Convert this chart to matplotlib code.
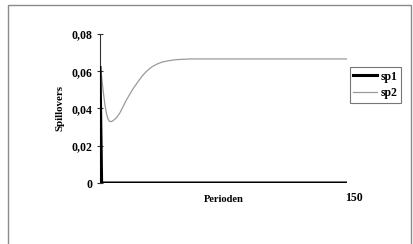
import matplotlib
matplotlib.use("Agg")
import matplotlib.pyplot as plt
from matplotlib.patches import Rectangle

# series
periods_sp1 = [0, 1, 150]
sp1 = [0.062, 0.0, 0.0]

periods_sp2 = [0, 1, 2, 3, 4, 5, 6, 7, 8, 10, 12, 14, 16, 18, 20, 22, 24, 26, 28, 30,
               32, 35, 38, 42, 46, 50, 55, 60, 80, 100, 120, 150]
sp2 = [0.062, 0.057, 0.049, 0.042, 0.037, 0.034, 0.033, 0.033, 0.0335, 0.035, 0.0375,
       0.041, 0.0445, 0.0475, 0.0505, 0.053, 0.0555, 0.0578, 0.0597, 0.0613, 0.0626,
       0.064, 0.065, 0.0657, 0.0662, 0.0664, 0.0666, 0.0666, 0.0666, 0.0666, 0.0666, 0.0666]

y_ticks = [0, 0.02, 0.04, 0.06, 0.08]
y_tick_labels = ["0", "0,02", "0,04", "0,06", "0,08"]

plt.rcParams["font.family"] = ["Liberation Serif", "DejaVu Serif"]
plt.rcParams["font.weight"] = "bold"

fig = plt.figure(figsize=(4.14, 2.44), dpi=100)
fig.patch.set_facecolor("white")

# outer chart frame
fig.patches.append(Rectangle((8 / 414, -0.02), 403 / 414, 1 - 5 / 244 + 0.02,
                             transform=fig.transFigure, fill=False,
                             edgecolor="#8a8a8a", linewidth=1.0))

ax = fig.add_axes([0.2415, 0.25, 0.5965, 0.6107])
ax.plot(periods_sp1, sp1, color="black", linewidth=2.2, label="sp1", zorder=3)
ax.plot(periods_sp2, sp2, color="#9a9a9a", linewidth=0.9, label="sp2", zorder=2)

ax.set_xlim(0, 150)
ax.set_ylim(0, 0.08)
ax.set_yticks(y_ticks)
ax.set_yticklabels(y_tick_labels)
ax.set_xticks([])
for side in ["top", "right", "bottom"]:
    ax.spines[side].set_visible(False)
ax.spines["left"].set_color("#333333")
ax.spines["left"].set_linewidth(0.8)
ax.tick_params(axis="y", direction="inout", length=5, width=0.8, labelsize=8.5, pad=3, color="#333333")

ax.set_ylabel("Spillovers", fontsize=7.8, fontweight="bold", labelpad=5)
fig.text(224 / 414, 1 - 200 / 244, "Perioden", fontsize=7.6, fontweight="bold", ha="center", va="center")
fig.text(354 / 414, 1 - 198 / 244, "150", fontsize=8.5, fontweight="bold", ha="center", va="center")

leg = fig.legend(loc="upper left", bbox_to_anchor=(0.845, 0.7254), fontsize=8.5,
                 frameon=True, fancybox=False, handlelength=2.0, handletextpad=0.3,
                 borderpad=0.3, labelspacing=0.4, borderaxespad=0)
leg.get_frame().set_edgecolor("#555555")
leg.get_frame().set_linewidth(0.8)

fig.savefig("out.png", dpi=100)
